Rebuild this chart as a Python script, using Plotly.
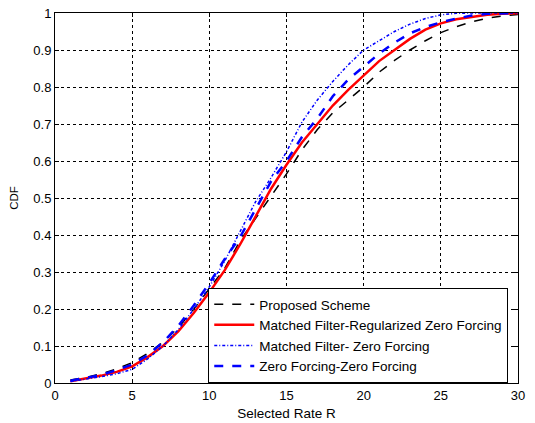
import plotly.graph_objects as go

rate = list(range(1, 31))

proposed = [0.008, 0.015, 0.025, 0.038, 0.055, 0.08, 0.11, 0.15, 0.2, 0.255,
            0.31, 0.385, 0.445, 0.505, 0.565, 0.63, 0.685, 0.73, 0.765, 0.8,
            0.84, 0.872, 0.9, 0.925, 0.947, 0.963, 0.976, 0.986, 0.992, 0.996]
mf_rzf = [0.005, 0.012, 0.02, 0.03, 0.045, 0.07, 0.1, 0.14, 0.19, 0.245,
          0.305, 0.375, 0.45, 0.525, 0.59, 0.65, 0.7, 0.75, 0.792, 0.832,
          0.87, 0.9, 0.93, 0.955, 0.972, 0.983, 0.99, 0.995, 0.998, 0.999]
mf_zf = [0.004, 0.01, 0.017, 0.025, 0.037, 0.065, 0.1, 0.145, 0.2, 0.26,
         0.33, 0.41, 0.49, 0.555, 0.625, 0.705, 0.765, 0.815, 0.86, 0.9,
         0.925, 0.95, 0.97, 0.985, 0.995, 0.999, 1.0, 1.0, 1.0, 1.0]
zf_zf = [0.006, 0.013, 0.022, 0.035, 0.05, 0.075, 0.11, 0.155, 0.21, 0.27,
         0.335, 0.395, 0.47, 0.545, 0.6, 0.665, 0.715, 0.775, 0.82, 0.855,
         0.89, 0.92, 0.945, 0.962, 0.975, 0.985, 0.993, 0.998, 1.0, 1.0]

fig = go.Figure()
fig.add_trace(go.Scatter(x=rate, y=proposed, mode='lines', name='Proposed Scheme',
                         line=dict(color='black', width=1.5, dash='dash')))
fig.add_trace(go.Scatter(x=rate, y=mf_rzf, mode='lines',
                         name='Matched Filter-Regularized Zero Forcing',
                         line=dict(color='red', width=2.5)))
fig.add_trace(go.Scatter(x=rate, y=mf_zf, mode='lines', name='Matched Filter- Zero Forcing',
                         line=dict(color='blue', width=1.5, dash='3px,2px,1px,2px')))
fig.add_trace(go.Scatter(x=rate, y=zf_zf, mode='lines', name='Zero Forcing-Zero Forcing',
                         line=dict(color='blue', width=2.5, dash='dash')))

axis_style = dict(showline=True, linecolor='black', linewidth=1, mirror='allticks',
                  ticks='inside', ticklen=4, tickcolor='black', automargin=False,
                  showgrid=True, gridcolor='black', gridwidth=1, griddash='dot',
                  zeroline=False, tickfont=dict(size=13, color='black'),
                  ticklabeloverflow='allow')

fig.update_xaxes(range=[0, 30], dtick=5, tick0=0,
                 title=dict(text='Selected Rate R', font=dict(size=13.5), standoff=6),
                 **axis_style)
fig.update_yaxes(range=[0, 1], dtick=0.1, tick0=0,
                 title=dict(text='CDF', font=dict(size=11.5), standoff=13),
                 **axis_style)

# page body has an 8px margin, so the figure is sized 8px smaller
fig.update_layout(
    width=527, height=415,
    margin=dict(l=47, r=17, t=5, b=40),
    paper_bgcolor='white', plot_bgcolor='white',
    font=dict(family='Liberation Sans, Arial', color='black', size=12),
    legend=dict(x=0.331, y=0, xanchor='left', yanchor='bottom',
                bgcolor='white', bordercolor='black', borderwidth=1,
                font=dict(size=13.5), itemwidth=40, tracegroupgap=0),
)

fig.write_html("out.html")
